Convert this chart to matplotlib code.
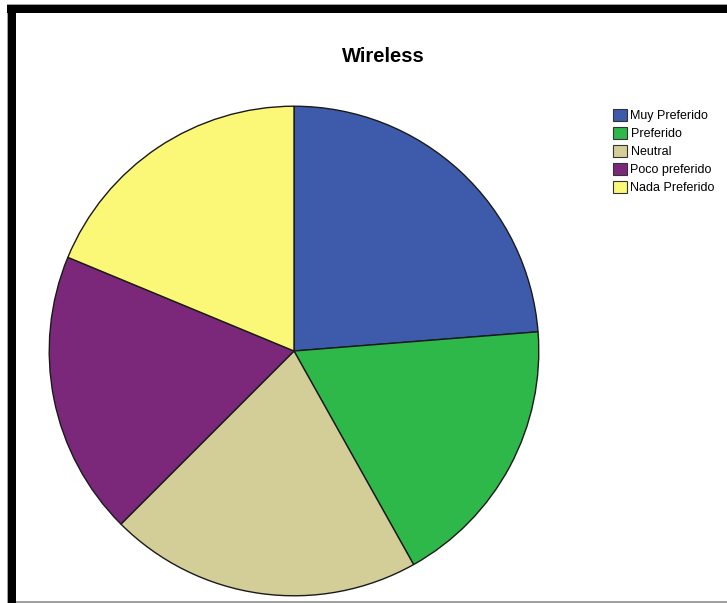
import matplotlib
matplotlib.use("Agg")
import matplotlib.pyplot as plt
from matplotlib.patches import Rectangle

categories = ["Muy Preferido", "Preferido", "Neutral", "Poco preferido", "Nada Preferido"]
counts = [38, 29, 33, 30, 30]
colors = ["#3e5aab", "#2eb84a", "#d3ce98", "#7b287b", "#fbf777"]
title = "Wireless"

plt.rcParams['font.family'] = ['Liberation Sans', 'DejaVu Sans']

W, H = 727, 603
fig = plt.figure(figsize=(W / 100, H / 100), dpi=100)
fig.patch.set_facecolor("white")

# frame (thick black on top and left, thin gray on bottom)
fig.patches.append(Rectangle((7 / W, 1 - 603 / H), 1.5 / W, 598 / H, transform=fig.transFigure,
                             facecolor="#a0a0a0", edgecolor="none"))
fig.patches.append(Rectangle((8 / W, 1 - 603 / H), 8 / W, 598 / H, transform=fig.transFigure,
                             facecolor="black", edgecolor="none"))
fig.patches.append(Rectangle((7 / W, 1 - 13 / H), 720 / W, 8.5 / H, transform=fig.transFigure,
                             facecolor="black", edgecolor="none"))
fig.patches.append(Rectangle((7 / W, 1 - 4.5 / H), 720 / W, 0.8 / H, transform=fig.transFigure,
                             facecolor="#a0a0a0", edgecolor="none"))
fig.patches.append(Rectangle((16 / W, 0), 711 / W, 2 / H, transform=fig.transFigure,
                             facecolor="#a0a0a0", edgecolor="none"))

cx, cy, r = 294, 351, 246
ax = fig.add_axes([(cx - r) / W, (H - cy - r) / H, 2 * r / W, 2 * r / H])
wedges, _ = ax.pie(counts, colors=colors, startangle=90, counterclock=False, radius=1,
                   wedgeprops=dict(edgecolor="#1a1a1a", linewidth=1.0))
ax.set_xlim(-1.005, 1.005)
ax.set_ylim(-1.005, 1.005)
ax.set_aspect("equal")
ax.axis("off")

fig.text(383 / W, 1 - 57 / H, title, ha="center", va="center", fontsize=14.5, fontweight="bold")

leg = fig.legend(wedges, categories, loc="upper left", bbox_to_anchor=(613 / W, 1 - 109 / H),
                 frameon=False, fontsize=9, handlelength=1.1, handleheight=1.1,
                 handletextpad=0.3, labelspacing=0.38, borderaxespad=0, borderpad=0)
for h in leg.legend_handles:
    h.set_edgecolor("#333333")
    h.set_linewidth(0.8)

fig.savefig("out.png", dpi=100, facecolor="white")
